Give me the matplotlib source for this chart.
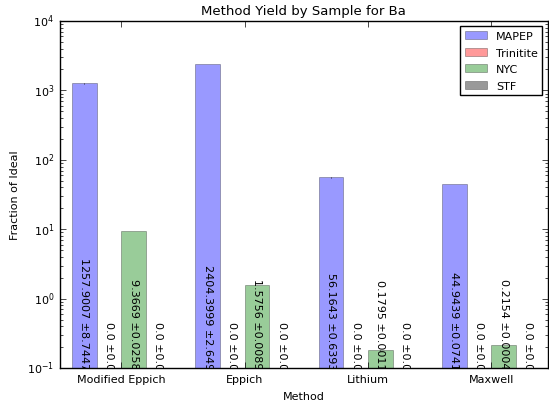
import matplotlib
matplotlib.use("Agg")
import matplotlib.pyplot as plt
import numpy as np

plt.style.use("classic")

methods = ["Modified Eppich", "Eppich", "Lithium", "Maxwell"]
samples = ["MAPEP", "Trinitite", "NYC", "STF"]
colors = ["b", "r", "g", "k"]

mapep = [1257.9007, 2404.3999, 56.1643, 44.9439]
mapep_err = [8.7447, 2.649, 0.6393, 0.0741]
trinitite = [0.0, 0.0, 0.0, 0.0]
trinitite_err = [0.0, 0.0, 0.0, 0.0]
nyc = [9.3669, 1.5756, 0.1795, 0.2154]
nyc_err = [0.0258, 0.0089, 0.0011, 0.0004]
stf = [0.0, 0.0, 0.0, 0.0]
stf_err = [0.0, 0.0, 0.0, 0.0]

values = [mapep, trinitite, nyc, stf]
errors = [mapep_err, trinitite_err, nyc_err, stf_err]

fig = plt.figure(figsize=(5.49, 4.06), dpi=100)
fig.patch.set_facecolor("white")
ax = fig.add_axes([0.109, 0.091, 0.889, 0.855])

x = np.arange(len(methods))
w = 0.2
for k, (name, col) in enumerate(zip(samples, colors)):
    pos = x + k * w
    ax.bar(pos, values[k], w, yerr=errors[k], color=col, alpha=0.4,
           align="edge", label=name, linewidth=0.5,
           error_kw=dict(ecolor="k", elinewidth=0.5, capsize=0))
    # value labels, rotated, running down to the bottom of the axes
    for px, v, e in zip(pos, values[k], errors[k]):
        ax.text(px + w / 2, 0.097, f"{v} \u00b1{e}", rotation=270,
                ha="center", va="bottom", fontsize=8, clip_on=True)

ax.set_yscale("log")
ax.set_ylim(0.1, 1e4)
ax.set_xlim(-0.1, 3.86)
ax.set_xticks(x + 0.4)
ax.set_xticklabels(methods, fontsize=8)
ax.tick_params(axis="y", labelsize=8)
ax.set_xlabel("Method", fontsize=8)
ax.set_ylabel("Fraction of Ideal", fontsize=8)
ax.set_title("Method Yield by Sample for Ba", fontsize=9.5)
ax.legend(loc="upper right", fontsize=8, labelspacing=0.6)

fig.savefig("out.png", dpi=100)
